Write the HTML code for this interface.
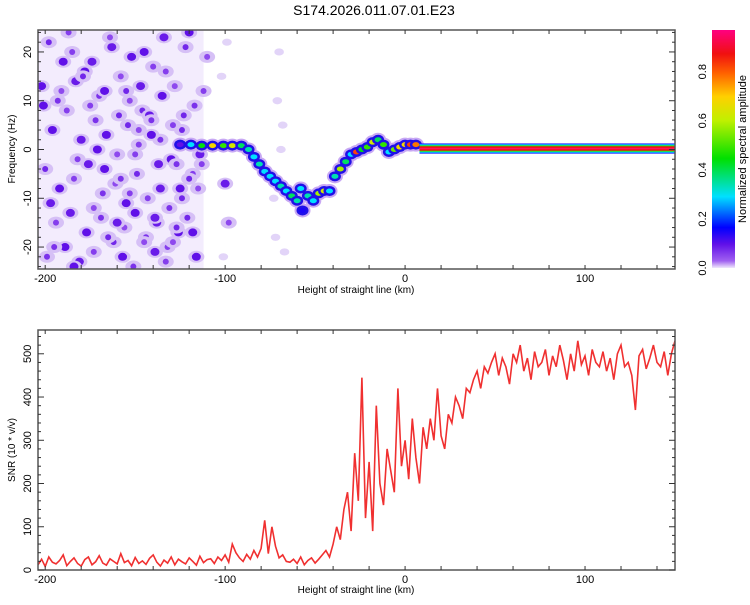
<!DOCTYPE html>
<html><head><meta charset="utf-8"><style>
body{margin:0;background:#fff;}
svg{font-family:"Liberation Sans",sans-serif;}
</style></head><body>
<svg id="c" width="750" height="600" viewBox="0 0 750 600" xmlns="http://www.w3.org/2000/svg">
<defs>
<linearGradient id="cb" x1="0" y1="1" x2="0" y2="0">
<stop offset="0" stop-color="#f0e8fc"/><stop offset="0.03" stop-color="#a060f0"/><stop offset="0.1" stop-color="#6010e8"/>
<stop offset="0.17" stop-color="#0000ff"/><stop offset="0.3" stop-color="#00e0ff"/><stop offset="0.46" stop-color="#00e000"/>
<stop offset="0.62" stop-color="#c0f000"/><stop offset="0.72" stop-color="#ffd000"/><stop offset="0.82" stop-color="#ff6000"/>
<stop offset="0.9" stop-color="#f01010"/><stop offset="1" stop-color="#ff0080"/>
</linearGradient>
<clipPath id="clipTop"><rect x="38" y="30" width="637" height="239"/></clipPath>
<clipPath id="clipBot"><rect x="38" y="330" width="637" height="240"/></clipPath>
</defs>
<text x="374" y="15" text-anchor="middle" font-size="14">S174.2026.011.07.01.E23</text>
<g id="topg" clip-path="url(#clipTop)"></g>
<g id="botg" clip-path="url(#clipBot)"></g>
<g id="axes"></g>
<rect x="712" y="30" width="23" height="238" fill="url(#cb)"/>
<text transform="translate(746,149) rotate(-90)" text-anchor="middle" font-size="11">Normalized spectral amplitude</text>
</svg>
<script>
const NS="http://www.w3.org/2000/svg";
// ---- data ----
const xDomain=[-204,150];
const freqDomain=[-24.5,24.5];
const snrDomain=[0,555];
const xTicks=[-200,-100,0,100];
const freqTicks=[-20,-10,0,10,20];
const snrTicks=[0,100,200,300,400,500];
const cbTicks=[0,0.2,0.4,0.6,0.8];
const trackX=[-125,-119,-113,-107,-101,-96,-91,-87,-84,-81,-78,-75,-72,-69,-66,-63,-60,-57,-58,-54,-51,-48,-45,-42,-39,-36,-33,-30,-27,-24,-21,-18,-15,-12,-9,-6,-3,0,3,6];
const trackF=[1,1,0.8,0.8,0.8,0.8,0.8,0,-1.5,-3,-4.5,-5.5,-6.5,-7.5,-8.5,-9.5,-10.5,-12.5,-8,-9.5,-10.5,-9,-8.5,-8.5,-5.5,-4,-2.5,-1,-0.5,0,0.5,1.5,2,1,-0.5,0,0.5,1,1,1];
const trackA=[0.1,0.3,0.45,0.7,0.5,0.65,0.4,0.35,0.3,0.35,0.3,0.3,0.3,0.35,0.3,0.4,0.35,0.15,0.3,0.35,0.3,0.6,0.65,0.3,0.35,0.6,0.4,0.3,0.85,0.45,0.5,0.65,0.4,0.5,0.3,0.55,0.7,0.7,0.85,0.8];
const bandStart=8, bandF=0.2, bandAmp=0.9;
const noiseX=[-198,-190,-185,-178,-170,-163,-158,-152,-146,-140,-134,-128,-122,-117,-112,-196,-188,-180,-172,-166,-160,-154,-148,-142,-136,-130,-124,-118,-114,-200,-192,-184,-176,-168,-161,-155,-149,-143,-137,-131,-125,-120,-194,-186,-177,-169,-162,-156,-150,-144,-138,-132,-126,-121,-199,-189,-181,-173,-165,-157,-151,-145,-139,-133,-127,-116,-193,-183,-175,-167,-159,-153,-147,-141,-135,-129,-123,-70,-72,-100,-98,-68,
-202,-187,-174,-164,-155,-145,-133,-120,-110,-197,-182,-171,-158,-148,-136,-124,-113,-201,-191,-179,-167,-153,-139,-129,-118,-195,-184,-173,-160,-150,-141,-127,-115,-102,-99,-101,-71,-69,-73,-67];
const noiseF=[22,18,20,16,11,21,15,19,8,17,23,13,21,9,12,4,8,2,6,3,-1,5,1,7,2,-2,4,-5,-1,-4,-8,-6,-3,-9,-7,-11,-5,-10,-3,-12,-8,-6,-15,-13,-17,-14,-19,-16,-13,-18,-15,-20,-17,-14,-22,-20,-23,-21,-18,-22,-24,-19,-21,-23,-16,-22,10,14,9,12,7,10,13,6,11,5,7,20,-18,-7,-15,5,
13,24,18,23,12,20,16,24,19,-11,-2,0,-6,4,-8,-10,-3,9,12,15,-4,-9,-14,-19,-17,-20,-24,-12,-15,-1,3,-3,-8,15,22,-22,10,0,-10,-21];
const noiseA=[0.08,0.1,0.06,0.1,0.07,0.09,0.05,0.1,0.08,0.06,0.09,0.05,0.08,0.07,0.06,0.1,0.06,0.09,0.07,0.1,0.05,0.08,0.06,0.09,0.07,0.1,0.08,0.06,0.09,0.08,0.1,0.06,0.09,0.07,0.05,0.1,0.08,0.06,0.09,0.07,0.1,0.08,0.06,0.09,0.1,0.07,0.08,0.05,0.1,0.07,0.09,0.06,0.1,0.08,0.07,0.1,0.09,0.06,0.08,0.1,0.07,0.05,0.09,0.06,0.08,0.1,0.07,0.09,0.06,0.1,0.08,0.05,0.09,0.07,0.1,0.06,0.08,0.04,0.04,0.09,0.05,0.04,
0.1,0.06,0.09,0.05,0.08,0.1,0.06,0.1,0.05,0.09,0.06,0.1,0.07,0.05,0.09,0.08,0.06,0.1,0.05,0.08,0.1,0.06,0.09,0.05,0.1,0.07,0.1,0.05,0.09,0.06,0.1,0.07,0.05,0.04,0.04,0.04,0.03,0.03,0.03,0.03];
const snrStart=-204, snrStep=2;
const snrVals=[12,25,8,30,18,14,22,35,10,20,28,15,9,24,30,12,19,33,16,11,26,20,14,38,17,22,10,29,15,21,13,27,35,18,9,23,16,30,12,25,19,14,28,20,11,32,17,24,
26,15,30,22,35,18,60,40,28,20,36,25,45,30,50,115,38,100,55,28,35,20,18,25,15,30,12,22,28,16,25,35,
45,30,60,100,70,140,180,90,270,160,445,120,250,90,380,200,150,280,230,180,420,240,300,210,350,260,200,330,280,350,
300,420,310,280,360,340,400,380,350,420,410,440,460,420,470,455,480,500,450,490,470,430,500,480,520,460,490,440,505,470,
480,510,450,495,470,520,485,440,500,460,530,475,495,450,510,480,470,505,460,490,440,500,520,470,480,450,370,495,510,465,
490,520,480,470,505,450,500,530,470,480,540,490];
// ---- scales ----
const X=v=>38+(v-xDomain[0])/(xDomain[1]-xDomain[0])*637;
const YF=v=>30+(freqDomain[1]-v)/(freqDomain[1]-freqDomain[0])*239;
const YS=v=>570-(v-snrDomain[0])/(snrDomain[1]-snrDomain[0])*240;
const stops=[[0,[240,232,252]],[0.03,[160,96,240]],[0.1,[96,16,232]],[0.17,[0,0,255]],[0.3,[0,224,255]],[0.46,[0,224,0]],[0.62,[192,240,0]],[0.72,[255,208,0]],[0.82,[255,96,0]],[0.9,[240,16,16]],[1,[255,0,128]]];
function cmap(a){for(let i=1;i<stops.length;i++){if(a<=stops[i][0]){const[t0,c0]=stops[i-1],[t1,c1]=stops[i];const t=(a-t0)/(t1-t0);return 'rgb('+c0.map((c,k)=>Math.round(c+(c1[k]-c)*t)).join(',')+')';}}return 'rgb(255,0,128)';}
function el(tag,attrs,parent){const e=document.createElementNS(NS,tag);for(const k in attrs)e.setAttribute(k,attrs[k]);parent.appendChild(e);return e;}
const gTop=document.getElementById('topg'), gBot=document.getElementById('botg'), ax=document.getElementById('axes');
// noise background
const bg=el('rect',{x:X(-204),y:30,width:X(-112)-X(-204),height:239,fill:'#f3ecfd'},gTop);


noiseX.forEach((nx,i)=>{
  const s=noiseA[i]<0.05?0.6:1;
  const h=el('ellipse',{cx:X(nx),cy:YF(noiseF[i]),rx:8*s,ry:6*s,fill:noiseA[i]<0.05?'#e2d4f8':'#d6c0f6'},gTop);
  
  
  if(noiseA[i]>=0.05){
  const b=el('ellipse',{cx:X(nx),cy:YF(noiseF[i]),rx:noiseA[i]>0.08?4.5:3,ry:noiseA[i]>0.08?4:3,fill:cmap(noiseA[i])},gTop);
  
  }
});
// track
trackX.forEach((tx,i)=>{
  const h=el('ellipse',{cx:X(tx),cy:YF(trackF[i]),rx:8,ry:7,fill:'#c8a8f4'},gTop);
  
  
});
trackX.forEach((tx,i)=>{
  const o=el('ellipse',{cx:X(tx),cy:YF(trackF[i]),rx:6,ry:5,fill:'#2010e8'},gTop);
  
  
  const c=el('ellipse',{cx:X(tx),cy:YF(trackF[i]),rx:3.5,ry:2.5,fill:cmap(trackA[i])},gTop);
  
  
});
// constant band
[[1.05,'#2020ff'],[0.85,'#00e0ff'],[0.65,'#30e000'],[0.45,cmap(bandAmp)],[0.15,'#ff1060']].forEach(([hw,col])=>{
  const r=el('rect',{x:X(bandStart),y:YF(bandF+hw),width:X(xDomain[1])-X(bandStart),height:YF(bandF-hw)-YF(bandF+hw),fill:col},gTop);
  
  
});
// snr line
const pts=snrVals.map((v,i)=>X(snrStart+i*snrStep).toFixed(1)+','+YS(v).toFixed(1)).join(' ');
const line=el('polyline',{points:pts,fill:'none',stroke:'#f03030','stroke-width':1.6},gBot);


// axes
function frame(y0,y1,name){const r=el('rect',{x:38,y:y0,width:637,height:y1-y0,fill:'none',stroke:'#555','stroke-width':1.5},ax);}
frame(30,269,'spectrogram-frame');frame(330,570,'snr-frame');
function xAxis(y0,y1,ly){
  for(let v=-200;v<=150;v+=20){const x=X(v);el('line',{x1:x,y1:y1,x2:x,y2:y1-4,stroke:'#333'},ax);el('line',{x1:x,y1:y0,x2:x,y2:y0+4,stroke:'#333'},ax);}
  xTicks.forEach(v=>{const t=el('text',{x:X(v),y:y1+13,'text-anchor':'middle','font-size':11},ax);t.textContent=v;});
  const t=el('text',{x:356,y:ly,'text-anchor':'middle','font-size':10},ax);t.textContent='Height of straight line (km)';
}
xAxis(30,269,293);xAxis(330,570,593);
for(let v=-24;v<=24;v+=2){const y=YF(v);el('line',{x1:38,y1:y,x2:(v%10==0?44:41),y2:y,stroke:'#333'},ax);el('line',{x1:675,y1:y,x2:(v%10==0?669:672),y2:y,stroke:'#333'},ax);}
freqTicks.forEach(v=>{const t=el('text',{transform:`translate(31,${YF(v)}) rotate(-90)`,'text-anchor':'middle','font-size':11},ax);t.textContent=v;});
for(let v=0;v<=550;v+=20){const y=YS(v);el('line',{x1:38,y1:y,x2:(v%100==0?44:41),y2:y,stroke:'#333'},ax);el('line',{x1:675,y1:y,x2:(v%100==0?669:672),y2:y,stroke:'#333'},ax);}
snrTicks.forEach(v=>{const t=el('text',{transform:`translate(31,${YS(v)}) rotate(-90)`,'text-anchor':'middle','font-size':11},ax);t.textContent=v;});
let t=el('text',{transform:'translate(15,149) rotate(-90)','text-anchor':'middle','font-size':10},ax);t.textContent='Frequency (Hz)';
t=el('text',{transform:'translate(15,450) rotate(-90)','text-anchor':'middle','font-size':10},ax);t.textContent='SNR (10 * v/v)';
cbTicks.forEach(v=>{const y=268-v/0.97*238;const tt=el('text',{transform:`translate(706,${y}) rotate(-90)`,'text-anchor':'middle','font-size':11},ax);tt.textContent=v.toFixed(1);});
</script>
</body></html>
